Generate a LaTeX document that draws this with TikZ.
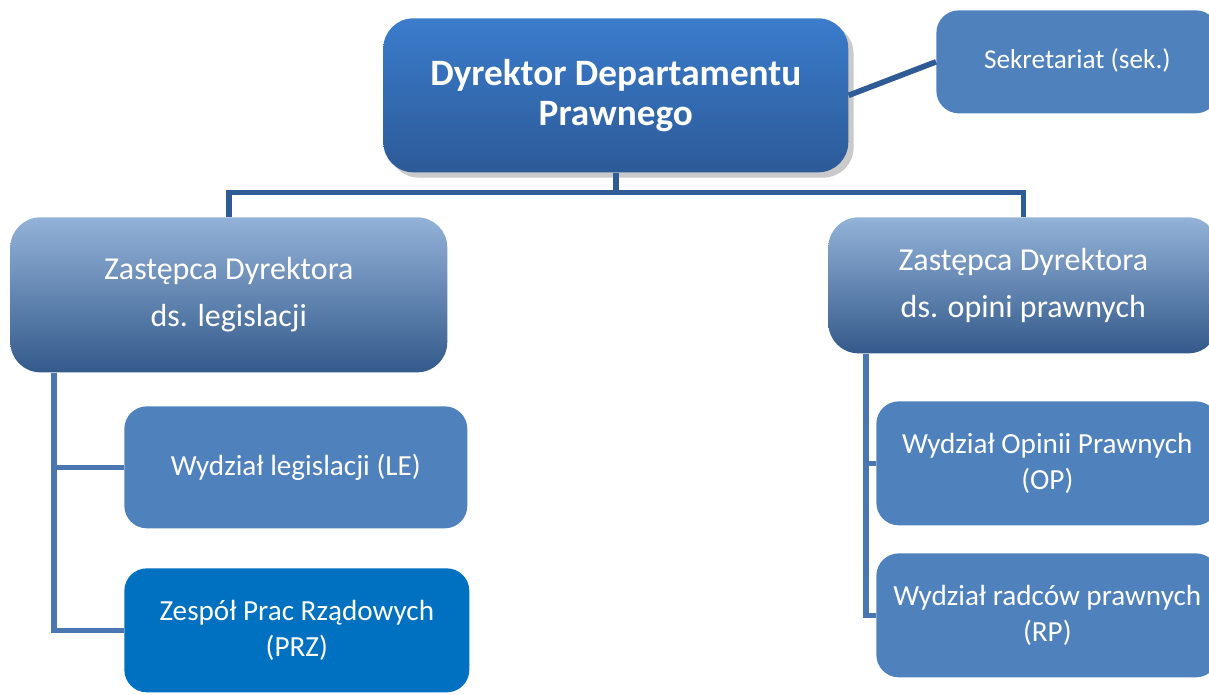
\documentclass[tikz,border=0pt]{standalone}
\usepackage{fontspec}
\setmainfont{Carlito}
\usetikzlibrary{shadows}
\definecolor{dirtop}{HTML}{3B7CCC}
\definecolor{dirbot}{HTML}{2C5A98}
\definecolor{deptop}{HTML}{93B2D8}
\definecolor{depbot}{HTML}{335A8B}
\definecolor{unitblue}{HTML}{4F81BD}
\definecolor{przblue}{HTML}{0070C0}
\definecolor{linkdark}{HTML}{2F5C96}
\definecolor{linklight}{HTML}{4A76B2}
\tikzstyle{dirblock} = [rectangle, rounded corners=0.6cm, anchor=north west, align=center,
    top color=dirtop, bottom color=dirbot, text=white, font=\fontsize{21.2}{23}\selectfont\bfseries,
    drop shadow={shadow xshift=3pt, shadow yshift=-3pt, fill=black!35, opacity=0.6}
]
\tikzstyle{depblock} = [rectangle, rounded corners=0.6cm, anchor=north west, align=center,
    top color=deptop, bottom color=depbot, text=white, font=\fontsize{18.2}{27}\selectfont
]
\tikzstyle{unitblock} = [rectangle, rounded corners=0.45cm, anchor=north west, align=center,
    fill=unitblue, text=white, font=\fontsize{16.6}{20.5}\selectfont
]
\tikzstyle{mainlink} = [draw=linkdark, line width=3.2pt]
\tikzstyle{sublink} = [draw=linklight, line width=2.9pt]

\begin{document}
\begin{tikzpicture}[x=0.02cm, y=-0.02cm]
	\useasboundingbox (0,0) rectangle (1209,695);
	\clip (0,0) rectangle (1209,695);

	\node(dir) at (383,18) [dirblock, minimum width=9.3cm, minimum height=3.08cm] {Dyrektor Departamentu\\Prawnego};
	\node(sek) at (936,10) [unitblock, font=\fontsize{15.5}{19}\selectfont, minimum width=5.64cm, minimum height=2.06cm, text depth=0.15cm] {Sekretariat (sek.)};

	\node(depL) at (10,217) [depblock, minimum width=8.74cm, minimum height=3.1cm] {Zastępca Dyrektora\\ds. legislacji};
	\node(depR) at (828,217) [depblock, minimum width=7.8cm, minimum height=2.72cm] {Zastępca Dyrektora\\ds. opini prawnych};

	\node(le) at (124,406) [unitblock, minimum width=6.86cm, minimum height=2.44cm] {Wydział legislacji (LE)};
	\node(prz) at (124,568) [unitblock, fill=przblue, minimum width=6.9cm, minimum height=2.48cm] {Zespół Prac Rządowych\\(PRZ)};

	\node(op) at (876,401) [unitblock, minimum width=6.84cm, minimum height=2.48cm] {Wydział Opinii Prawnych\\(OP)};
	\node(rp) at (876,553) [unitblock, minimum width=6.84cm, minimum height=2.48cm] {Wydział radców prawnych\\(RP)};

	\draw[mainlink] (dir.east) -- (sek.west);
	\draw[mainlink] (dir.south) -- ++(0,20) -| (depL.north);
	\draw[mainlink] (dir.south) ++(0,20) -| (depR.north);

	\draw[sublink] ([xshift=0.88cm]depL.south west) |- (le.west);
	\draw[sublink] ([xshift=0.88cm]depL.south west) |- (prz.west);

	\draw[sublink] ([xshift=0.76cm]depR.south west) |- (op.west);
	\draw[sublink] ([xshift=0.76cm]depR.south west) |- (rp.west);
\end{tikzpicture}
\end{document}
